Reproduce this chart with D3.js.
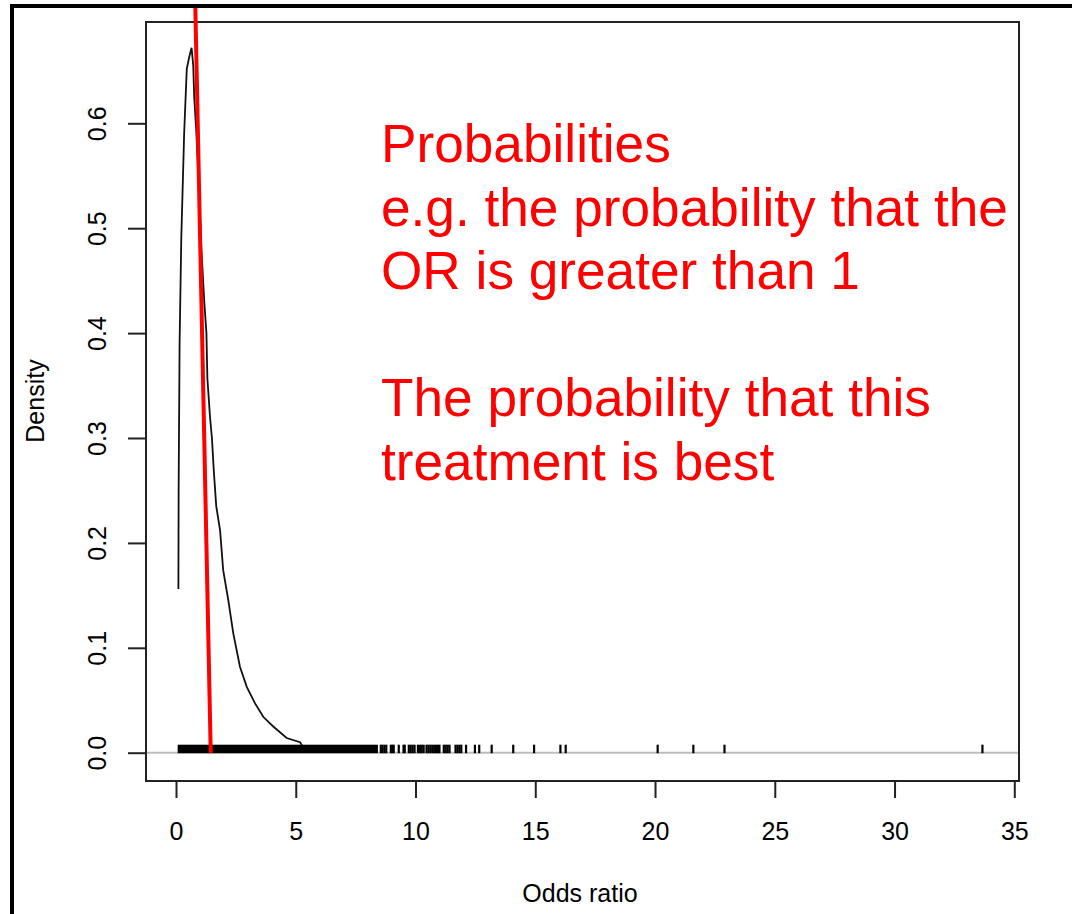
<!DOCTYPE html>
<html>
<head>
<meta charset="utf-8">
<script src="https://cdn.jsdelivr.net/npm/d3@7"></script>
<style>
  html, body { margin: 0; padding: 0; background: #fff; }
  svg { display: block; font-family: "Liberation Sans", Arial, sans-serif; }
</style>
</head>
<body>
<div id="chart"></div>
<script>
// density curve of the odds ratio
const orValues = [0.10, 0.11, 0.15, 0.22, 0.34, 0.45, 0.55, 0.65, 0.72, 0.76, 0.84, 0.95, 1.06, 1.18, 1.27, 1.31, 1.42, 1.50, 1.58, 1.68, 1.84, 1.97, 2.18, 2.39, 2.67, 2.95, 3.30, 3.65, 4.06, 4.62, 5.18, 5.26];
const densityValues = [0.156, 0.25, 0.39, 0.49, 0.59, 0.652, 0.663, 0.672, 0.655, 0.625, 0.595, 0.545, 0.48, 0.43, 0.40, 0.357, 0.32, 0.30, 0.268, 0.235, 0.212, 0.174, 0.146, 0.114, 0.082, 0.063, 0.047, 0.034, 0.025, 0.014, 0.010, 0.007];

// rug: dense band of samples, then single samples
const rugBand = [0.07, 8.43];
const rugValues = [8.55, 8.62, 8.70, 8.78, 8.97, 9.04, 9.09, 9.30, 9.50, 9.55,
  9.72, 9.80, 9.88, 9.96, 10.10, 10.18, 10.26, 10.34,
  10.46, 10.54, 10.62, 10.70, 10.78, 10.86, 10.94, 11.00,
  11.18, 11.26, 11.34, 11.42, 11.67, 11.75, 11.83, 11.91,
  12.11, 12.48, 12.66, 13.18, 14.08, 14.95, 16.05, 16.27, 20.11, 21.6, 22.9, 33.67];

// red annotation line (odds ratio, density)
const redLineOR = [1.45, 0.806];
const redLineDensity = [0, 0.712];

const xTicks = [0, 5, 10, 15, 20, 25, 30, 35];
const yTicks = [0, 0.1, 0.2, 0.3, 0.4, 0.5, 0.6];

const noteLines = [
  "Probabilities",
  "e.g. the probability that the",
  "OR is greater than 1",
  "",
  "The probability that this",
  "treatment is best"
];

const W = 1072, H = 914;
const box = {left: 146, top: 22, right: 1019, bottom: 781};

const svg = d3.select("#chart")
  .append("svg")
    .attr("width", W)
    .attr("height", H);

const x = d3.scaleLinear()
    .domain([0, 35])
    .range([176, 1014.3]);

const y = d3.scaleLinear()
    .domain([0, 0.6])
    .range([752.7, 123.3]);

// zero line
svg.append("line")
    .attr("x1", box.left).attr("x2", box.right)
    .attr("y1", y(0)).attr("y2", y(0))
    .attr("stroke", "#bdbdbd")
    .attr("stroke-width", 2);

// rug
svg.append("rect")
    .attr("x", x(rugBand[0]))
    .attr("width", x(rugBand[1]) - x(rugBand[0]))
    .attr("y", y(0) - 8)
    .attr("height", 8.5)
    .attr("fill", "#000");

svg.selectAll(".rug")
  .data(rugValues)
  .enter()
  .append("line")
    .attr("class", "rug")
    .attr("x1", d => x(d)).attr("x2", d => x(d))
    .attr("y1", y(0) - 8).attr("y2", y(0) + 0.5)
    .attr("stroke", "#000")
    .attr("stroke-width", 2.2);

// density curve
const pts = orValues.map((v, i) => [v, densityValues[i]]);
svg.append("path")
    .datum(pts)
    .attr("fill", "none")
    .attr("stroke", "#111")
    .attr("stroke-width", 1.8)
    .attr("d", d3.line().x(d => x(d[0])).y(d => y(d[1])));

// plot box
svg.append("rect")
    .attr("x", box.left).attr("y", box.top)
    .attr("width", box.right - box.left)
    .attr("height", box.bottom - box.top)
    .attr("fill", "none")
    .attr("stroke", "#222")
    .attr("stroke-width", 2);

// x axis
const xAxis = svg.append("g")
    .attr("transform", `translate(0,${box.bottom})`)
    .call(d3.axisBottom(x).tickValues(xTicks).tickSize(17).tickPadding(24).tickFormat(d3.format("d")));
xAxis.select(".domain").remove();
xAxis.selectAll("line").attr("stroke", "#222").attr("stroke-width", 2);
xAxis.selectAll("text")
    .attr("fill", "#000")
    .style("font-size", "25px")
    .style("font-family", "'Liberation Sans', Arial, sans-serif");

// y axis
const yAxis = svg.append("g")
    .attr("transform", `translate(${box.left},0)`)
    .call(d3.axisLeft(y).tickValues(yTicks).tickSize(18).tickFormat(d3.format(".1f")));
yAxis.select(".domain").remove();
yAxis.selectAll("line").attr("stroke", "#222").attr("stroke-width", 2);
yAxis.selectAll("text")
    .attr("fill", "#000")
    .attr("transform", "rotate(-90)")
    .attr("x", 0)
    .attr("y", -49)
    .attr("dy", "0.35em")
    .attr("text-anchor", "middle")
    .style("font-size", "25px")
    .style("font-family", "'Liberation Sans', Arial, sans-serif");

// axis titles
svg.append("text")
    .attr("x", 580)
    .attr("y", 902)
    .attr("text-anchor", "middle")
    .style("font-size", "25px")
    .text("Odds ratio");

svg.append("text")
    .attr("transform", "translate(44,401) rotate(-90)")
    .attr("text-anchor", "middle")
    .style("font-size", "25px")
    .text("Density");

// red annotation line
svg.append("line")
    .attr("x1", x(redLineOR[0])).attr("y1", y(redLineDensity[0]))
    .attr("x2", x(redLineOR[1])).attr("y2", y(redLineDensity[1]))
    .attr("stroke", "#ff0000")
    .attr("stroke-width", 4);

// red note
svg.append("g")
  .selectAll("text")
  .data(noteLines)
  .enter()
  .append("text")
    .attr("x", 381)
    .attr("y", (d, i) => 162 + i * 63.5)
    .attr("fill", "#ff0000")
    .style("font-size", "53.2px")
    .text(d => d);

// outer frame
svg.append("path")
    .attr("d", `M12,${H} V6 H${W}`)
    .attr("fill", "none")
    .attr("stroke", "#000")
    .attr("stroke-width", 4);
</script>
</body>
</html>
